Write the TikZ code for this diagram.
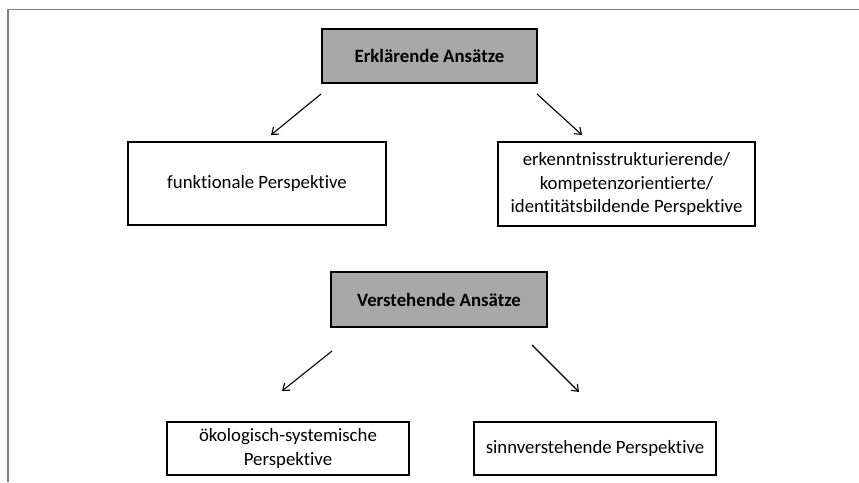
\documentclass[tikz,border=0pt]{standalone}
\usepackage{fontspec}
\setmainfont{Carlito}[Ligatures=NoCommon]
\usetikzlibrary{arrows.meta}
\definecolor{boxgrey}{RGB}{168,168,168}
\definecolor{framegrey}{RGB}{128,128,128}
\begin{document}
\begin{tikzpicture}[x=1pt,y=-1pt,
  every node/.style={inner sep=0pt,outer sep=0pt,font=\fontsize{18.8}{23.5}\selectfont,align=center},
  headbox/.style={draw=black,line width=2pt,fill=boxgrey,font=\fontsize{18.8}{23.5}\selectfont\bfseries},
  plainbox/.style={draw=black,line width=2pt,fill=white},
  conn/.style={line width=1.1pt,-{Straight Barb[length=6pt,width=9pt]}}]
\useasboundingbox (0,0) rectangle (859,482);
\fill[white] (0,0) rectangle (859,482);
\coordinate (ftl) at (8,9.5);
\coordinate (ftr) at (859,9.5);
\coordinate (fbl) at (8,482);
\draw[framegrey,line width=1.5pt] (fbl) -- (ftl) -- (ftr);

\node[headbox,minimum width=215pt,minimum height=54pt] (erk) at (429.5,56) {Erklärende Ansätze};
\node[plainbox,minimum width=258pt,minimum height=83pt] (fun) at (257,183.5) {funktionale Perspektive};
\node[plainbox,minimum width=257pt,minimum height=84pt] (ekn) at (626.5,184) {erkenntnisstrukturierende/\\kompetenzorientierte/\\identitätsbildende Perspektive};
\node[headbox,minimum width=216pt,minimum height=55pt] (ver) at (439,299.5) {Verstehende Ansätze};
\node[plainbox,minimum width=242pt,minimum height=53pt] (oek) at (288,448.5) {ökologisch-systemische\\Perspektive};
\node[plainbox,minimum width=242pt,minimum height=53pt] (sin) at (595,448.5) {sinnverstehende Perspektive};

\coordinate (a1s) at (321,94);
\coordinate (a1e) at (271,135);
\coordinate (a2s) at (537,94);
\coordinate (a2e) at (582,135);
\coordinate (a3s) at (332,351);
\coordinate (a3e) at (282,391);
\coordinate (a4s) at (532,345);
\coordinate (a4e) at (579,392);
\draw[conn] (a1s) -- (a1e);
\draw[conn] (a2s) -- (a2e);
\draw[conn] (a3s) -- (a3e);
\draw[conn] (a4s) -- (a4e);
\end{tikzpicture}
\end{document}
